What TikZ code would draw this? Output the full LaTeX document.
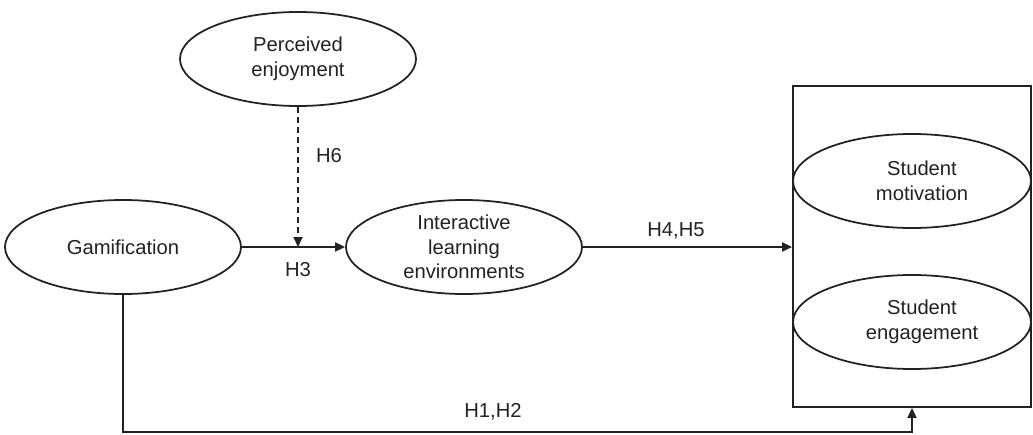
\documentclass[tikz,border=0pt]{standalone}
\usepackage{fontspec}
\setmainfont{Liberation Sans}
\usetikzlibrary{arrows.meta,positioning,calc,shapes.geometric}
\definecolor{Ink}{HTML}{222222}

\tikzset{
  construct/.style={ellipse,draw=Ink,line width=1pt,minimum width=4.72cm,minimum height=1.88cm,
    inner sep=0pt,align=center,text=Ink,font=\fontsize{11.5}{14}\selectfont},
  path/.style={draw=Ink,line width=1pt,-{Triangle[length=2mm,width=1.8mm]}},
  hyp/.style={text=Ink,font=\fontsize{11.5}{14}\selectfont,inner sep=0pt}
}

\begin{document}
\begin{tikzpicture}[x=1cm,y=1cm]
\useasboundingbox (0,0) rectangle (20.66,8.68);
% outcome block
\node[draw=Ink,line width=1pt,minimum width=4.76cm,minimum height=6.42cm,inner sep=0pt] (outcome) at (18.24,3.75) {};
\node[construct,minimum width=4.76cm] (motivation) at (18.24,5.06) {\hspace*{0.4cm}Student\\\hspace*{0.4cm}motivation};
\node[construct,minimum width=4.76cm] (engagement) at (18.24,2.24) {\hspace*{0.4cm}Student\\\hspace*{0.4cm}engagement};
% predictors
\node[construct] (enjoy) at (5.96,7.50) {Perceived\\enjoyment};
\node[construct] (gamif) at (2.46,3.74) {Gamification};
\node[construct] (ile) at (9.28,3.74) {Interactive\\learning\\environments};
\coordinate (moder) at (enjoy.south |- gamif.east);
\coordinate (bend) at (18.24,0.04);
% paths
\draw[path] (gamif.east) -- (ile.west);
\draw[path,dash pattern=on 3.4pt off 2.3pt] (enjoy.south) -- (moder);
\draw[path] (ile.east) -- (ile.east -| outcome.west);
\draw[path] (gamif.south) |- (bend) -- (outcome.south);
% labels
\node[hyp] at (6.58,5.56) {H6};
\node[hyp] at (5.96,3.28) {H3};
\node[hyp] at (13.52,4.06) {H4,H5};
\node[hyp] at (9.86,0.44) {H1,H2};
\end{tikzpicture}
\end{document}
